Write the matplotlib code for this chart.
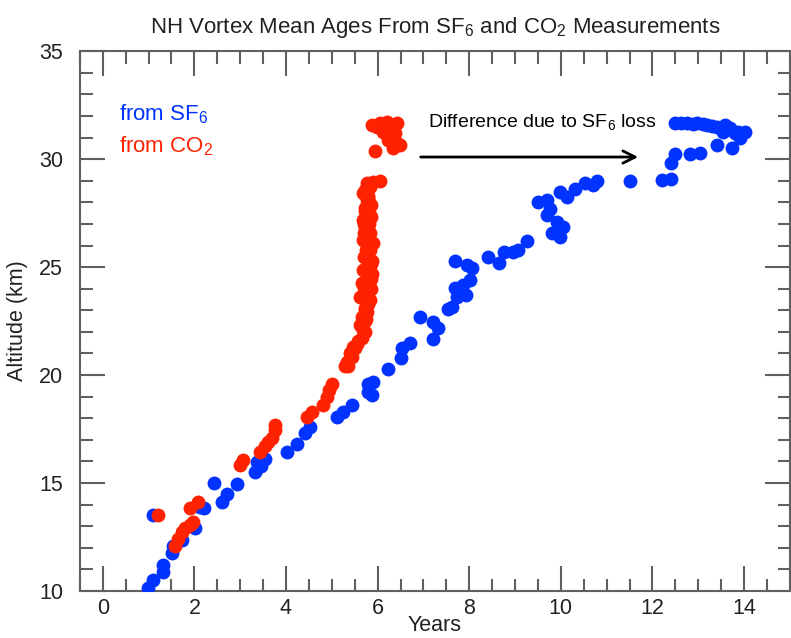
import numpy as np
import matplotlib
matplotlib.use("Agg")
import matplotlib.pyplot as plt
from matplotlib.ticker import MultipleLocator

plt.rcParams.update({
    "font.family": ["Liberation Sans", "DejaVu Sans"],
    "mathtext.default": "regular",
})

# SF6 derived mean ages (years) and altitudes (km)
sf6_age = [0.99, 1.10, 1.32, 1.32, 1.10, 1.51, 1.54, 1.73, 2.02, 2.20, 2.13,
           2.42, 2.61, 2.71, 2.93, 3.33, 3.37, 3.45, 3.55, 4.02, 4.24, 4.42,
           4.53, 5.12, 5.25, 5.44, 5.80, 5.90, 5.80, 5.88, 6.23, 6.50, 6.54,
           6.71, 6.93, 7.21, 7.32, 7.21, 7.54, 7.62, 7.74, 7.70, 7.92, 7.87,
           8.02, 8.06, 7.70, 7.96, 8.41, 8.64, 8.75, 8.96, 9.07, 9.26, 9.50,
           9.70, 9.77, 9.70, 9.92, 10.05, 9.81, 9.98, 9.98, 10.14, 10.31,
           10.53, 10.79, 10.70, 11.51, 12.20, 12.40, 12.40, 12.50, 12.83,
           13.04, 13.41, 13.74, 12.50, 12.76, 12.98, 13.20, 13.41, 13.59,
           13.70, 13.87, 14.02, 13.92, 13.80, 13.55, 12.62, 12.88, 13.10,
           13.30, 13.65]
sf6_alt = [10.14, 10.50, 11.20, 10.90, 13.50, 11.76, 12.10, 12.35, 12.90,
           13.85, 13.90, 15.00, 14.10, 14.50, 14.95, 15.50, 15.97, 15.80,
           16.10, 16.45, 16.80, 17.30, 17.60, 18.05, 18.30, 18.60, 19.60,
           19.70, 19.20, 19.07, 20.30, 20.80, 21.25, 21.50, 22.70, 22.45,
           22.20, 21.65, 23.05, 23.15, 23.60, 24.05, 23.70, 24.15, 24.40,
           24.95, 25.30, 25.10, 25.45, 25.20, 25.70, 25.70, 25.80, 26.20,
           28.00, 28.10, 27.70, 27.40, 27.10, 26.85, 26.60, 26.40, 28.50,
           28.25, 28.60, 28.90, 29.00, 28.80, 29.00, 29.03, 29.07, 29.80,
           30.25, 30.25, 30.30, 30.65, 30.50, 31.67, 31.67, 31.67, 31.57,
           31.50, 31.57, 31.43, 31.25, 31.25, 30.97, 31.20, 31.25, 31.67,
           31.65, 31.62, 31.52, 31.38]

# CO2 derived mean ages (years) and altitudes (km)
co2_age = [1.21, 1.58, 1.65, 1.73, 1.80, 1.91, 1.98, 1.91, 2.08, 3.00, 3.07,
           3.44, 3.55, 3.61, 3.70, 3.77, 3.77, 4.46, 4.57, 4.81, 4.90, 4.93,
           5.00, 5.29, 5.36, 5.40, 5.44, 5.47, 5.51, 5.58, 5.66, 5.69, 5.73,
           5.73, 5.77, 5.80, 5.62, 5.73, 5.66, 5.88, 5.77, 5.88, 5.77, 5.90,
           5.77, 5.73, 5.69, 5.84, 5.73, 5.77, 5.73, 5.77, 5.80, 5.75, 5.82,
           5.70, 5.86, 5.78, 6.06, 5.90, 5.95, 5.88, 6.06, 6.20, 6.42, 6.12,
           6.23, 6.42, 6.49, 6.34, 5.99, 6.27, 6.38, 5.34, 5.55, 5.62, 5.66,
           5.72, 5.84, 5.70, 5.85, 5.68, 5.86, 5.70, 5.83, 5.68, 5.84, 5.70,
           5.86, 5.72, 5.80, 5.68, 5.83, 5.72, 5.86, 5.74, 5.82, 6.00, 6.14,
           6.32]
co2_alt = [13.50, 12.10, 12.40, 12.75, 12.90, 13.05, 13.20, 13.85, 14.10,
           15.85, 16.05, 16.45, 16.70, 16.90, 17.10, 17.45, 17.70, 18.05,
           18.30, 18.60, 19.00, 19.30, 19.60, 20.40, 20.40, 21.00, 20.85,
           21.30, 21.25, 21.60, 21.70, 22.10, 22.00, 22.50, 22.90, 23.30,
           23.60, 23.90, 24.25, 24.70, 25.00, 25.30, 25.60, 26.10, 26.40,
           26.80, 27.20, 27.40, 27.60, 28.10, 28.55, 28.90, 26.00, 25.80,
           27.00, 26.60, 27.90, 28.30, 29.00, 28.95, 30.40, 31.57, 31.67,
           31.70, 31.67, 31.25, 30.90, 30.75, 30.65, 30.50, 31.50, 31.40,
           31.20, 20.60, 21.45, 22.30, 22.70, 23.10, 23.50, 24.05, 24.45,
           24.85, 25.15, 25.45, 25.80, 26.25, 26.60, 27.00, 27.30, 27.75,
           28.20, 28.45, 28.70, 23.00, 24.00, 22.60, 28.00, 31.60, 31.55,
           31.05]

blue = "#0033ff"
red = "#ff2200"
grey = "#606060"
dark = "#222222"

fig = plt.figure(figsize=(7.91, 6.38), dpi=100)
ax = fig.add_axes([0.101, 0.0737, 0.8975, 0.846])

ax.scatter(sf6_age, sf6_alt, s=100, color=blue, linewidths=0, zorder=3)
ax.scatter(co2_age, co2_alt, s=100, color=red, linewidths=0, zorder=3)

ax.set_xlim(-0.5, 15)
ax.set_ylim(10, 35)
ax.xaxis.set_major_locator(MultipleLocator(2))
ax.xaxis.set_minor_locator(MultipleLocator(0.5))
ax.yaxis.set_major_locator(MultipleLocator(5))
ax.yaxis.set_minor_locator(MultipleLocator(1))
ax.tick_params(which="both", direction="in", top=True, right=True,
               color=grey, width=1.5, labelsize=15.5, labelcolor=dark)
ax.tick_params(which="major", length=18)
ax.tick_params(which="minor", length=9)
ax.tick_params(axis="y", which="major", pad=12)
ax.tick_params(axis="x", which="major", pad=5)

for sp in ax.spines.values():
    sp.set_color(grey)
    sp.set_linewidth(1.5)

ax.set_xlabel("Years", fontsize=15.5, labelpad=-3, color=dark)
ax.set_ylabel("Altitude (km)", fontsize=15.5, labelpad=8, color=dark)
ax.set_title("NH Vortex Mean Ages From SF$_6$ and CO$_2$ Measurements",
             fontsize=16, pad=13, color=dark)

ax.text(0.35, 32.1, "from SF$_6$", color=blue, fontsize=16, va="center")
ax.text(0.35, 30.6, "from CO$_2$", color=red, fontsize=16, va="center")

ax.annotate("", xy=(11.75, 30.1), xytext=(6.88, 30.1),
            arrowprops=dict(arrowstyle="->", lw=2, color="black",
                            mutation_scale=22))
ax.text(7.1, 31.7, "Difference due to SF$_6$ loss", fontsize=14,
        va="center", color="black")

fig.savefig("out.png", dpi=100)
